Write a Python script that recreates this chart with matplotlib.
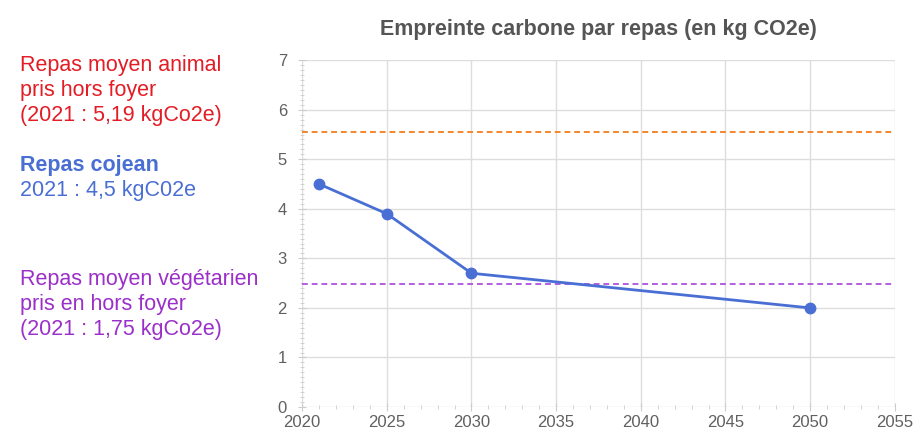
import matplotlib.pyplot as plt
from matplotlib.ticker import MultipleLocator

# data
years = [2021, 2025, 2030, 2050]
cojean = [4.5, 3.9, 2.7, 2.0]
animal_level = 5.55
vege_level = 2.48

x_ticks = [2020, 2025, 2030, 2035, 2040, 2045, 2050, 2055]
y_ticks = [0, 1, 2, 3, 4, 5, 6, 7]

title = "Empreinte carbone par repas (en kg CO2e)"
red_lines = ["Repas moyen animal", "pris hors foyer", "(2021 : 5,19 kgCo2e)"]
blue_lines = ["Repas cojean", "2021 : 4,5 kgC02e"]
purple_lines = ["Repas moyen végétarien", "pris en hors foyer", "(2021 : 1,75 kgCo2e)"]

plt.rcParams['font.family'] = ['Liberation Sans', 'DejaVu Sans']

fig = plt.figure(figsize=(9.13, 4.33), dpi=100)
ax = fig.add_axes([0.331, 0.060, 0.649, 0.801])

ax.plot(years, cojean, color='#4a6fd4', lw=2, marker='o', ms=7.5, zorder=3)
ax.axhline(animal_level, color='#f5862a', lw=1.4, ls=(0, (3, 2)), zorder=2)
ax.axhline(vege_level, color='#b35ee0', lw=1.4, ls=(0, (3, 2)), zorder=2)

ax.set_xlim(2020, 2055)
ax.set_ylim(0, 7)
ax.set_xticks(x_ticks)
ax.set_yticks(y_ticks)
ax.xaxis.set_minor_locator(MultipleLocator(1))
ax.yaxis.set_minor_locator(MultipleLocator(0.1))
ax.grid(True, which='major', color='#dddddd', lw=1)
for s in ax.spines.values():
    s.set_visible(False)
ax.tick_params(which='both', colors='#cccccc', labelcolor='#606060', labelsize=12)
ax.tick_params(which='major', length=6, direction='inout')
ax.tick_params(which='minor', length=3, direction='inout')
ax.tick_params(axis='y', pad=8)
ax.tick_params(axis='x', pad=3)
ax.set_axisbelow(True)

ax.set_title(title, fontsize=15.5, fontweight='bold', color='#555555', pad=18)

def block(lines, y0, color, bold_first=False):
    for i, t in enumerate(lines):
        fig.text(20 / 913, 1 - (y0 + i * 25.5) / 433, t, color=color, fontsize=15.5,
                 va='center', ha='left',
                 fontweight='bold' if (bold_first and i == 0) else 'normal')

block(red_lines, 65, '#e31c25')
block(blue_lines, 165, '#4a6fd4', bold_first=True)
block(purple_lines, 279, '#9b2fc9')

fig.savefig('out.png', dpi=100)
